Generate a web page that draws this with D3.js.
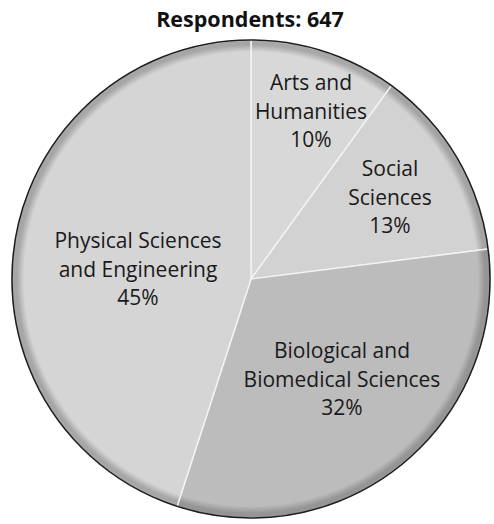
<!DOCTYPE html>
<html>
<head>
<meta charset="utf-8">
<script src="https://cdn.jsdelivr.net/npm/d3@7/dist/d3.min.js"></script>
<style>
  html, body { margin: 0; padding: 0; background: #fff; }
  svg { display: block; }
</style>
</head>
<body>
<svg id="chart" width="494" height="524"></svg>
<script>
// Field of study of survey respondents
const title = "Respondents: 647";
const categories = ["Arts and Humanities", "Social Sciences", "Biological and Biomedical Sciences", "Physical Sciences and Engineering"];
const shares = [10, 13, 32, 45];
const labelLines = [
  ["Arts and", "Humanities"],
  ["Social", "Sciences"],
  ["Biological and", "Biomedical Sciences"],
  ["Physical Sciences", "and Engineering"]
];
const fills = ["#d8d8d8", "#d2d2d2", "#bcbcbc", "#d5d5d5"];
const rims = ["#a8a8a8", "#a4a4a4", "#959595", "#a6a6a6"];

const svg = d3.select("#chart");
const cx = 251, cy = 279, R = 239;
const font = "'Open Sans', 'Noto Sans', sans-serif";

const data = categories.map((c, i) => ({ name: c, value: shares[i], lines: labelLines[i], i }));

const pie = d3.pie().sort(null).value(d => d.value);
const arcs = pie(data);
const arc = d3.arc().innerRadius(0).outerRadius(R);

// Radial shading: flat face with a darker bevel near the rim
const defs = svg.append("defs");
data.forEach((d, i) => {
  const g = defs.append("radialGradient")
    .attr("id", "shade" + i)
    .attr("gradientUnits", "userSpaceOnUse")
    .attr("cx", 0).attr("cy", 0).attr("r", R);
  g.append("stop").attr("offset", "0").attr("stop-color", fills[i]);
  g.append("stop").attr("offset", "0.95").attr("stop-color", fills[i]);
  g.append("stop").attr("offset", "0.98").attr("stop-color", rims[i]);
  g.append("stop").attr("offset", "1").attr("stop-color", rims[i]);
});

const g = svg.append("g").attr("transform", `translate(${cx},${cy})`);

g.selectAll("path.slice")
  .data(arcs)
  .join("path")
  .attr("class", "slice")
  .attr("d", arc)
  .attr("fill", (d, i) => `url(#shade${i})`)
  .attr("stroke", "#f4f4f4")
  .attr("stroke-width", 1.4)
  .attr("stroke-linejoin", "round");

// Outer outline
g.append("circle")
  .attr("r", R)
  .attr("fill", "none")
  .attr("stroke", "#1e1e1e")
  .attr("stroke-width", 1.6);

// Label anchors (centre of the first line), relative to the pie centre
const labelPos = [
  [60, -189],
  [139, -103],
  [91, 79],
  [-113, -31]
];
const lineH = 28.5;

const labels = g.selectAll("text.label")
  .data(arcs)
  .join("text")
  .attr("class", "label")
  .attr("text-anchor", "middle")
  .attr("font-family", font)
  .attr("font-size", 21)
  .attr("fill", "#1a1a1a")
  .attr("transform", (d, i) => `translate(${labelPos[i][0]},${labelPos[i][1]})`);

labels.each(function(d) {
  const t = d3.select(this);
  const lines = d.data.lines.concat([d.data.value + "%"]);
  lines.forEach((s, k) => {
    t.append("tspan").attr("x", 0).attr("y", k * lineH).text(s);
  });
});

// Title
svg.append("text")
  .attr("x", 250)
  .attr("y", 27)
  .attr("text-anchor", "middle")
  .attr("font-family", font)
  .attr("font-weight", "bold")
  .attr("font-size", 21.5)
  .attr("fill", "#111")
  .text(title);
</script>
</body>
</html>
